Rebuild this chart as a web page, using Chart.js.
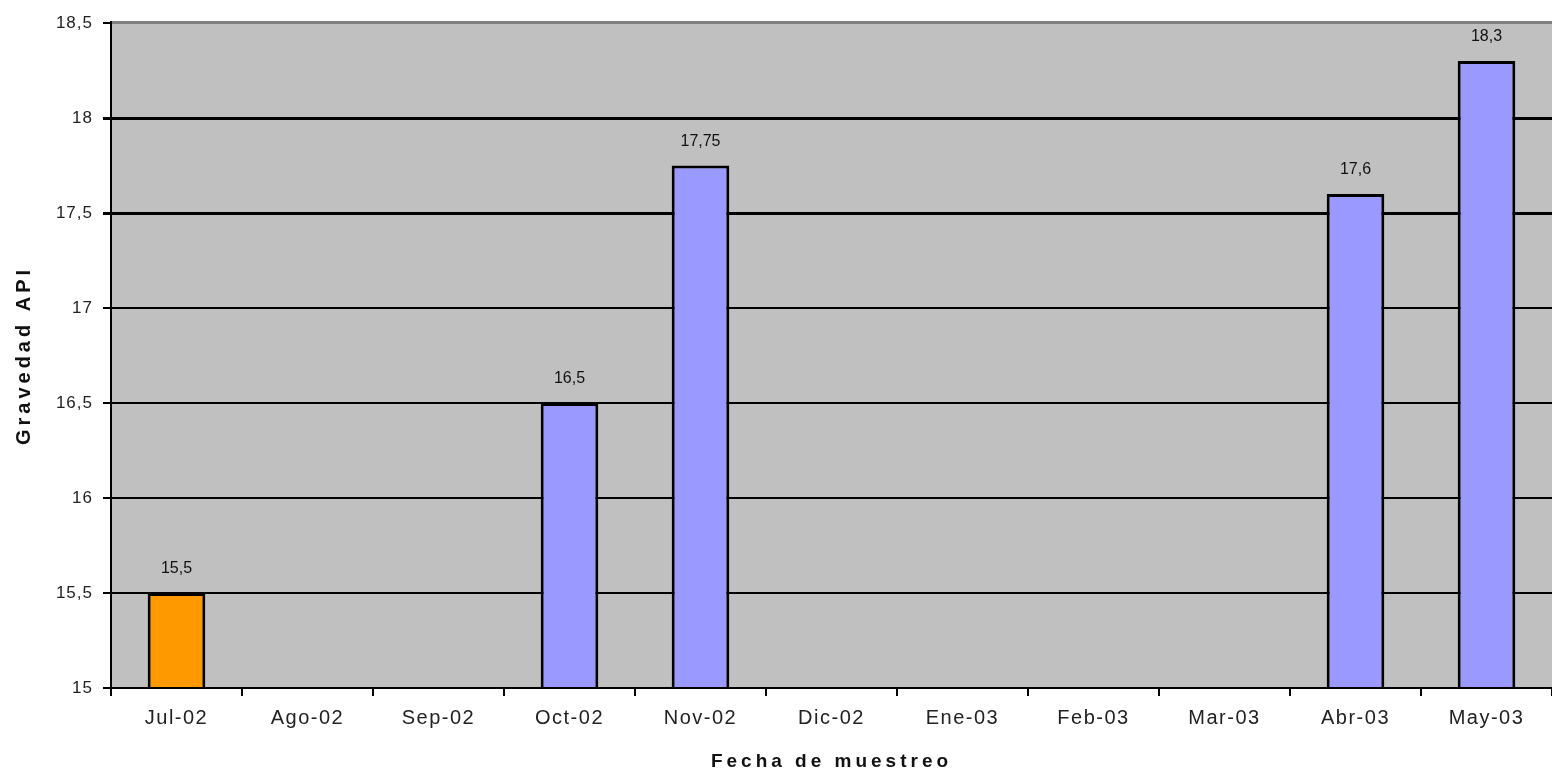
<!DOCTYPE html>
<html><head><meta charset="utf-8">
<script src="https://cdn.jsdelivr.net/npm/chart.js@4/dist/chart.umd.min.js"></script>
<style>html,body{margin:0;padding:0;background:#fff}#wrap{width:1552px;height:773px;position:relative}</style>
</head><body><div id="wrap"><canvas id="c" width="1552" height="773"></canvas></div>
<script>
const categories = ["Jul-02","Ago-02","Sep-02","Oct-02","Nov-02","Dic-02","Ene-03","Feb-03","Mar-03","Abr-03","May-03"];
const values = [15.5, null, null, 16.5, 17.75, null, null, null, null, 17.6, 18.3];
const barColors = ["#FF9900","#9999FF","#9999FF","#9999FF","#9999FF","#9999FF","#9999FF","#9999FF","#9999FF","#9999FF","#9999FF"];
const yTicks = [15, 15.5, 16, 16.5, 17, 17.5, 18, 18.5];
const yTitle = "Gravedad API";
const xTitle = "Fecha de muestreo";

const fmt = v => String(v).replace('.', ',');
const FONT = '"Liberation Sans", Arial, sans-serif';

// per-scale letter spacing for labels and titles
const spacing = { x: { labels: '1.5px', title: '4px' }, y: { labels: '1px', title: '4px' } };

const spacingPlugin = {
  id: 'spacing',
  afterLayout(chart) {
    Object.keys(spacing).forEach(id => {
      const s = chart.scales[id];
      if (!s || s._spPatched) return;
      s._spPatched = true;
      const proto = Object.getPrototypeOf(s);
      s.drawLabels = function (area) {
        const ctx = this.ctx; const old = ctx.letterSpacing;
        ctx.letterSpacing = spacing[id].labels;
        proto.drawLabels.call(this, area);
        ctx.letterSpacing = old || '0px';
      };
      s.drawTitle = function () {
        const ctx = this.ctx; const old = ctx.letterSpacing;
        ctx.letterSpacing = spacing[id].title;
        proto.drawTitle.call(this);
        ctx.letterSpacing = old || '0px';
      };
    });
  }
};

const bgPlugin = {
  id: 'bg',
  beforeDraw(chart) {
    const {ctx, chartArea: a} = chart;
    ctx.save();
    ctx.fillStyle = '#C0C0C0';
    ctx.fillRect(a.left, a.top, a.right - a.left, a.bottom - a.top);
    ctx.restore();
  },
  afterDatasetsDraw(chart) {
    const {ctx, chartArea: a} = chart;
    ctx.save();
    ctx.strokeStyle = '#808080';
    ctx.lineWidth = 3;
    ctx.beginPath(); ctx.moveTo(a.left, a.top - 0.5); ctx.lineTo(a.right, a.top - 0.5); ctx.stroke();
    ctx.strokeStyle = '#000';
    ctx.lineWidth = 2;
    ctx.beginPath(); ctx.moveTo(a.left, a.top - 2); ctx.lineTo(a.left, a.bottom); ctx.lineTo(a.right, a.bottom); ctx.stroke();
    // data labels
    const meta = chart.getDatasetMeta(0);
    ctx.fillStyle = '#111';
    ctx.font = '16px ' + FONT;
    ctx.textAlign = 'center';
    ctx.textBaseline = 'middle';
    meta.data.forEach((el, i) => {
      const v = values[i];
      if (v === null || v === undefined) return;
      ctx.fillText(fmt(v), el.x, el.y - 24);
    });
    ctx.restore();
  }
};

new Chart(document.getElementById('c'), {
  type: 'bar',
  data: {
    labels: categories,
    datasets: [{
      data: values,
      backgroundColor: barColors,
      borderColor: '#000',
      borderWidth: 3,
      borderSkipped: 'bottom',
      categoryPercentage: 1,
      barPercentage: 0.44
    }]
  },
  options: {
    responsive: false,
    animation: false,
    devicePixelRatio: 1,
    layout: { padding: { top: 23, right: 0, left: 0, bottom: 0 } },
    plugins: { legend: { display: false }, tooltip: { enabled: false } },
    scales: {
      x: {
        offset: true,
        grid: { offset: true, drawOnChartArea: false, color: '#000', lineWidth: 2, tickLength: 8, drawTicks: true },
        border: { display: false },
        ticks: { color: '#222', font: { family: FONT, size: 20 }, padding: 10, maxRotation: 0, autoSkip: false },
        title: { display: true, text: xTitle, color: '#111', font: { family: FONT, size: 19, weight: 'bold' }, padding: { top: 8, bottom: 0 } },
        afterFit(s) { s.height = 85; }
      },
      y: {
        min: 15, max: 18.5,
        afterBuildTicks(s) { s.ticks = yTicks.map(v => ({ value: v })); },
        grid: {
          color: '#000',
          lineWidth: ctx => (ctx.tick && (ctx.tick.value === 18 || ctx.tick.value === 17.5)) ? 3 : 2,
          tickLength: 8
        },
        border: { display: false },
        ticks: { color: '#222', font: { family: FONT, size: 17 }, padding: 10, callback: v => fmt(v) },
        title: { display: true, text: yTitle, color: '#111', font: { family: FONT, size: 20, weight: 'bold' }, padding: { top: 12, bottom: 8 } },
        afterFit(s) { s.width = 111; }
      }
    }
  },
  plugins: [spacingPlugin, bgPlugin]
});
</script>
</body></html>
